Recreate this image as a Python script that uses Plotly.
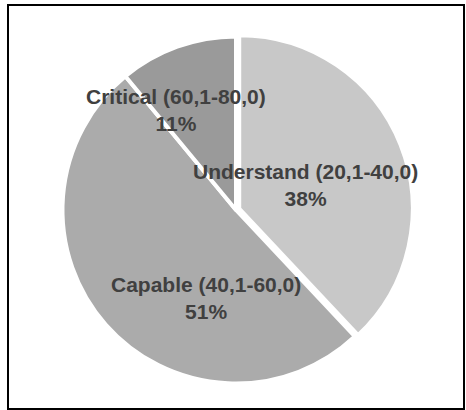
import plotly.graph_objects as go

labels = ["Understand (20,1-40,0)", "Capable (40,1-60,0)", "Critical (60,1-80,0)"]
values = [38, 51, 11]
colors = ["#c8c8c8", "#ababab", "#9a9a9a"]
pulls = [0.02, 0, 0]
# label anchor positions (paper coords)
label_x = [305 / 466, 206 / 466, 176 / 466]
label_y = [1 - 185 / 410, 1 - 298 / 410, 1 - 110 / 410]

W, H = 466, 410
cx, cy, r = 236, 210, 177

fig = go.Figure(go.Pie(
    labels=labels, values=values, sort=False, direction="clockwise", rotation=0,
    marker=dict(colors=colors, line=dict(color="white", width=4)),
    pull=pulls, textinfo="none", hoverinfo="label+percent",
    domain=dict(x=[(cx - r) / W, (cx + r) / W], y=[1 - (cy + r) / H, 1 - (cy - r) / H]),
    showlegend=False,
))

total = sum(values)
for lab, v, x, y in zip(labels, values, label_x, label_y):
    fig.add_annotation(
        x=x, y=y, xref="paper", yref="paper", showarrow=False,
        xanchor="center", yanchor="middle",
        text=f"<b>{lab}<br>{round(100 * v / total)}%</b>",
        font=dict(family="Liberation Sans, Arial", size=21, color="#404040"),
        align="center",
    )

fig.add_shape(type="rect", xref="paper", yref="paper",
              x0=8 / W, x1=464 / W, y0=1 - 409 / H, y1=1 - 5 / H,
              line=dict(color="black", width=2))

fig.update_layout(width=W, height=H, margin=dict(l=0, r=0, t=0, b=0),
                  paper_bgcolor="white", plot_bgcolor="white")
fig.write_html("out.html")
